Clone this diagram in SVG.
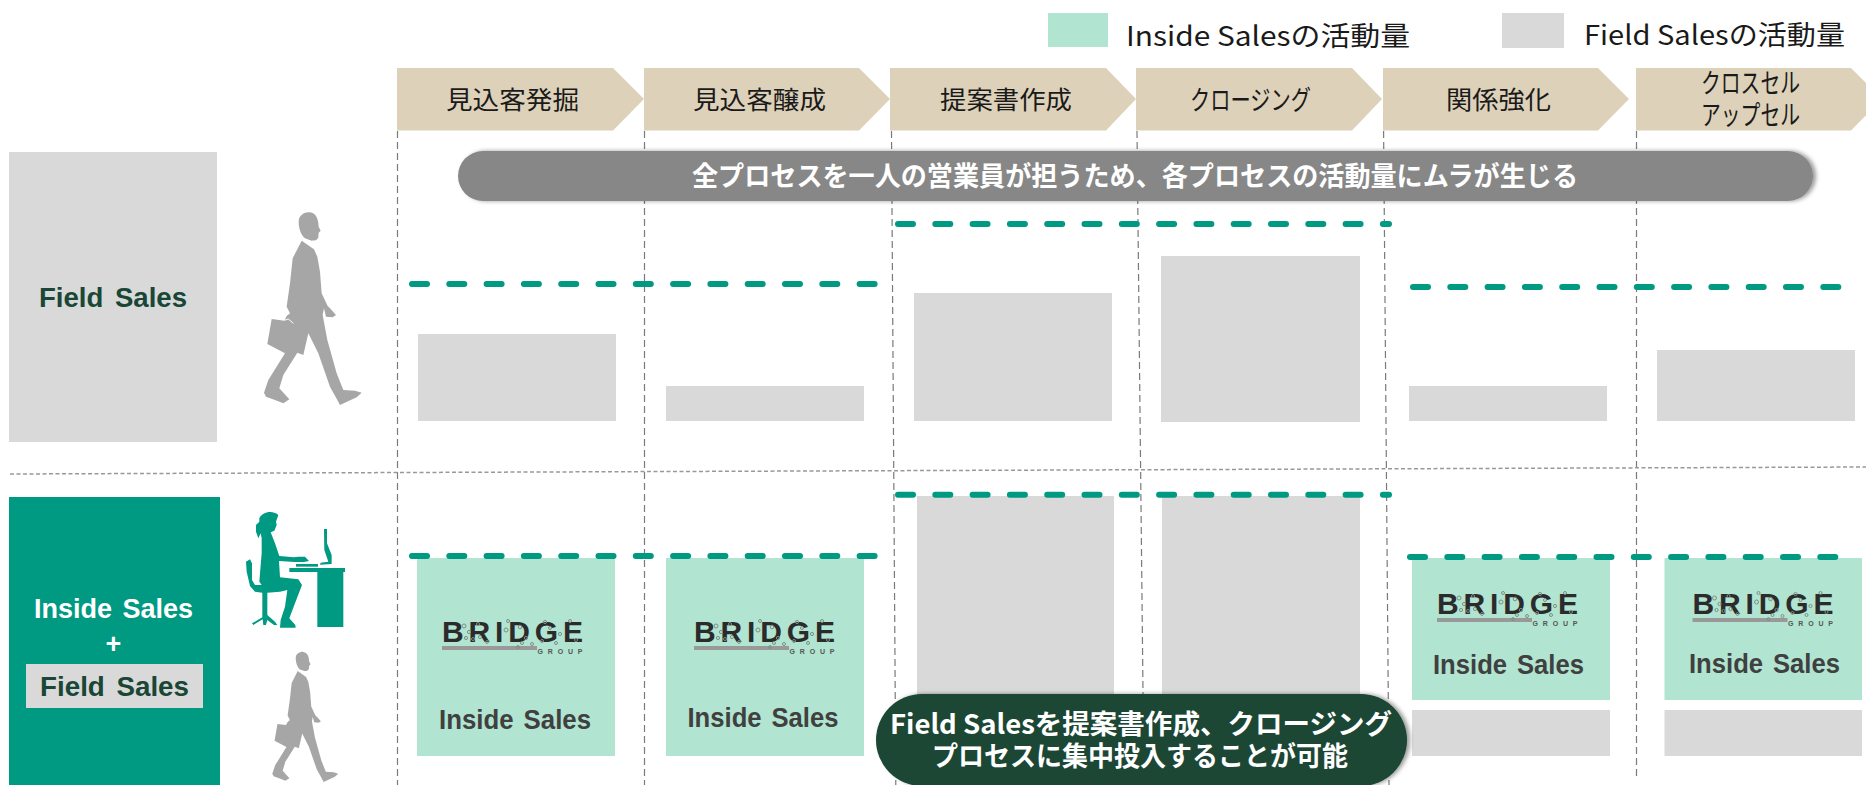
<svg xmlns="http://www.w3.org/2000/svg" width="1866" height="785" viewBox="0 0 1866 785">
<style>
text{font-family:"Noto Sans CJK JP","Liberation Sans",sans-serif;text-anchor:middle}
.lat{font-family:"Liberation Sans","Noto Sans CJK JP",sans-serif;font-weight:700}
.chev{fill:#ddd1b9}
.lab{font-size:25px;fill:#1a1a1a}
.kana{font-size:27px}
.gray{fill:#d9d9d9}
.green{fill:#b1e4d1}
.teal{fill:#009982}
.vd{stroke:#7a7a7a;stroke-width:1.2;stroke-dasharray:7 4;fill:none}
.hd{stroke:#999;stroke-width:1.5;stroke-dasharray:4 2.5;fill:none}
.gd{stroke:#009982;stroke-width:6;stroke-linecap:round;stroke-dasharray:15 22.3;fill:none}
.is{font-size:27px;fill:#404040;word-spacing:3px}
.pw{font-weight:700;fill:#fff}
.fs{font-size:28.500px;fill:#1a4636;word-spacing:4px}
.br{font-size:30px;fill:#2b2b2b}
.gr{font-size:7px;fill:#555}
.sp{fill:none;stroke:#7f8f87;stroke-width:1}
.man{fill:#a6a6a6}
</style>
<defs>
<filter id="sh" x="-5%" y="-30%" width="110%" height="160%"><feDropShadow dx="3" dy="0" stdDev="3" flood-color="#000" flood-opacity=".4"/></filter>
<g id="speck" class="sp">
<circle cx="22" cy="8" r="2"/><circle cx="27" cy="14" r="1.6"/><circle cx="24" cy="20" r="1.6"/><circle cx="31" cy="21" r="1.5"/><circle cx="36" cy="6" r="1.5"/><circle cx="38" cy="19" r="1.6"/><circle cx="45" cy="24" r="1.4"/><circle cx="66" cy="3" r="1.5"/><circle cx="64" cy="12" r="2"/><circle cx="78" cy="9" r="1.8"/><circle cx="84" cy="20" r="1.6"/><circle cx="80" cy="25" r="1.5"/><circle cx="76" cy="29" r="1.4"/><circle cx="90" cy="26" r="1.5"/><circle cx="103" cy="4" r="1.6"/><circle cx="100" cy="23" r="1.5"/><circle cx="108" cy="10" r="1.5"/><circle cx="118" cy="16" r="1.6"/><circle cx="114" cy="25" r="1.5"/><circle cx="128" cy="3" r="1.5"/><circle cx="134" cy="22" r="1.5"/>
</g>
<path id="man" d="M176,65C176,45 195,35 210,37C228,40 235,55 236,80L242,92L236,98L235,112C232,122 222,122 215,122L195,115C183,105 176,85 176,65ZM185,122L222,148L232,170L240,215L245,280L263,318L270,325L288,345L278,352L258,350L252,325L248,345L262,420L290,520L310,570L345,572L365,578L350,592L300,615L292,600L270,560L235,460L205,400L190,465L172,458L130,525L118,565L148,598L130,610L105,600L78,590L72,578L85,540L135,460L82,432L95,357L133,362L140,348L150,340L140,320L150,250L158,175Z"/>
</defs>

<g id="connectors">
<path class="vd" d="M397.5,131V785"/>
<path class="vd" d="M644.5,131V785"/>
<path class="vd" d="M891.5,131L895.8,785"/>
<path class="vd" d="M1137,131L1144,785"/>
<path class="vd" d="M1383.6,131L1389,785"/>
<path class="vd" d="M1636.5,131V778"/>
<path class="hd" d="M10,474L1866,467"/>
</g>

<g id="legend-inside"><rect class="green" x="1048" y="13" width="60" height="34"/><text x="1268" y="46" font-size="27" fill="#1a1a1a" textLength="284" lengthAdjust="spacingAndGlyphs">Inside Salesの活動量</text></g>
<g id="legend-field"><rect class="gray" x="1502" y="13" width="62" height="35"/><text x="1714.5" y="45" font-size="27" fill="#1a1a1a" textLength="261" lengthAdjust="spacingAndGlyphs">Field Salesの活動量</text></g>

<g id="step1"><path class="chev" d="M397,68H613L644,99L613,130.500H397Z"/><text class="lab" x="512.500" y="109" textLength="133" lengthAdjust="spacingAndGlyphs">見込客発掘</text></g>
<g id="step2"><path class="chev" d="M644,68H859L890,99L859,130.500H644Z"/><text class="lab" x="759.500" y="109" textLength="133" lengthAdjust="spacingAndGlyphs">見込客醸成</text></g>
<g id="step3"><path class="chev" d="M890,68H1106L1136,99L1106,130.500H890Z"/><text class="lab" x="1006" y="109" textLength="132" lengthAdjust="spacingAndGlyphs">提案書作成</text></g>
<g id="step4"><path class="chev" d="M1136,68H1352L1382,99L1352,130.500H1136Z"/><text class="lab kana" x="1250.500" y="110" textLength="121" lengthAdjust="spacingAndGlyphs">クロージング</text></g>
<g id="step5"><path class="chev" d="M1383,68H1598L1629,99L1598,130.500H1383Z"/><text class="lab" x="1498.500" y="109" textLength="105" lengthAdjust="spacingAndGlyphs">関係強化</text></g>
<g id="step6"><path class="chev" d="M1636,68H1851L1882,99L1851,130.500H1636Z"/><text class="lab kana"><tspan x="1750.500" y="93" textLength="99" lengthAdjust="spacingAndGlyphs">クロスセル</tspan><tspan x="1750.500" y="125" textLength="99" lengthAdjust="spacingAndGlyphs">アップセル</tspan></text></g>

<g id="field-sales"><rect class="gray" x="9" y="152" width="208" height="290"/><text class="lat fs" x="113" y="307" textLength="148" lengthAdjust="spacingAndGlyphs">Field Sales</text></g>
<g id="person-walking-1"><use href="#man" class="man" transform="translate(240,200) scale(.3333)"/><path d="M133,361L145,357L160,370" fill="none" stroke="#fff" stroke-width="3" transform="translate(240,200) scale(.3333)"/></g>

<g id="bars-field">
<rect class="gray" x="418" y="334" width="198" height="87"/>
<rect class="gray" x="666" y="386" width="198" height="35"/>
<rect class="gray" x="914" y="293" width="198" height="128"/>
<rect class="gray" x="1161" y="256" width="199" height="166"/>
<rect class="gray" x="1409" y="386" width="198" height="35"/>
<rect class="gray" x="1657" y="350" width="198" height="71"/>
</g>

<g id="message-top"><rect x="458" y="151" width="1355" height="50" rx="25" fill="#878787" filter="url(#sh)"/><text class="pw" x="1135" y="186" font-size="27" textLength="886" lengthAdjust="spacingAndGlyphs">全プロセスを一人の営業員が担うため、各プロセスの活動量にムラが生じる</text></g>

<g id="inside-field">
<rect class="teal" x="9" y="497" width="211" height="288"/>
<text class="lat pw" x="113.500" y="618" font-size="28" style="word-spacing:3px" textLength="159" lengthAdjust="spacingAndGlyphs">Inside Sales</text>
<text class="lat pw" x="113.500" y="653" font-size="27">+</text>
<rect class="gray" x="26" y="664" width="177" height="44"/>
<text class="lat fs" x="114.500" y="696" textLength="149" lengthAdjust="spacingAndGlyphs">Field Sales</text>
</g>

<g id="person-desk" class="teal" transform="translate(230,500) scale(.3333)">
<path d="M88,55C95,38 125,28 145,45L138,65L140,75L133,92L122,97L135,130L148,168L192,172L205,170L225,170L237,183L222,186L195,186L147,183L150,232L205,238L216,255L195,310L178,355L196,375L197,383L150,383L152,360L165,320L172,270L150,275L112,278L112,345L135,365L142,375L132,375L112,360L108,375L100,375L98,358L70,375L66,370L97,352L97,278L75,275L60,258L50,215L48,185L60,178L66,190L66,240L75,255L95,255L88,245L95,160L95,115L92,100L85,115L78,95L78,75L88,65Z"/>
<rect x="178" y="204" width="167" height="12"/><rect x="262" y="216" width="78" height="165"/><rect x="198" y="192" width="66" height="8"/>
<path d="M282,87H291V130L305,165V192L270,194L272,188L295,185L283,150Z"/>
</g>
<g id="person-walking-2"><use href="#man" class="man" transform="translate(256.100,643.600) scale(.225)"/></g>

<g id="bars-mixed">
<rect class="gray" x="917" y="496" width="197" height="210"/>
<rect class="gray" x="1162" y="496" width="198" height="210"/>
<rect class="gray" x="1412" y="710" width="198" height="46"/>
<rect class="gray" x="1664.500" y="710" width="197.500" height="46"/>
</g>

<g id="inside-1"><rect class="green" x="417" y="558" width="198" height="198"/>
<g transform="translate(442,618)"><text class="lat br" x="70.500" y="23.500" textLength="141" lengthAdjust="spacing">BRIDGE</text><rect y="28" width="95" height="4" fill="#999"/><text class="lat gr" x="118" y="36" textLength="45" lengthAdjust="spacing">GROUP</text><use href="#speck"/></g>
<text class="lat is" x="515" y="729" textLength="152" lengthAdjust="spacingAndGlyphs">Inside Sales</text></g>
<g id="inside-2"><rect class="green" x="666" y="558" width="198" height="198"/>
<g transform="translate(694,618)"><text class="lat br" x="70.500" y="23.500" textLength="141" lengthAdjust="spacing">BRIDGE</text><rect y="28" width="95" height="4" fill="#999"/><text class="lat gr" x="118" y="36" textLength="45" lengthAdjust="spacing">GROUP</text><use href="#speck"/></g>
<text class="lat is" x="763" y="727" textLength="151" lengthAdjust="spacingAndGlyphs">Inside Sales</text></g>
<g id="inside-3"><rect class="green" x="1412" y="558" width="198" height="142"/>
<g transform="translate(1437,590)"><text class="lat br" x="70.500" y="23.500" textLength="141" lengthAdjust="spacing">BRIDGE</text><rect y="28" width="95" height="4" fill="#999"/><text class="lat gr" x="118" y="36" textLength="45" lengthAdjust="spacing">GROUP</text><use href="#speck"/></g>
<text class="lat is" x="1508.500" y="674" textLength="151" lengthAdjust="spacingAndGlyphs">Inside Sales</text></g>
<g id="inside-4"><rect class="green" x="1664.500" y="558" width="197.500" height="142"/>
<g transform="translate(1692.500,590)"><text class="lat br" x="70.500" y="23.500" textLength="141" lengthAdjust="spacing">BRIDGE</text><rect y="28" width="95" height="4" fill="#999"/><text class="lat gr" x="118" y="36" textLength="45" lengthAdjust="spacing">GROUP</text><use href="#speck"/></g>
<text class="lat is" x="1764.500" y="673" textLength="151" lengthAdjust="spacingAndGlyphs">Inside Sales</text></g>

<g id="activity-lines">
<path class="gd" d="M412,284H875"/>
<path class="gd" d="M898,224H1389"/>
<path class="gd" d="M1413,287H1840"/>
<path class="gd" d="M412,556H875"/>
<path class="gd" d="M898,494.700H1389"/>
<path class="gd" d="M1410,557H1837"/>
</g>

<g id="message-bottom"><rect x="876" y="694" width="531" height="92" rx="46" fill="#1a4636" filter="url(#sh)"/><text class="pw" font-size="27"><tspan x="1141" y="734" textLength="502" lengthAdjust="spacingAndGlyphs">Field Salesを提案書作成、クロージング</tspan><tspan x="1140" y="766" textLength="416" lengthAdjust="spacingAndGlyphs">プロセスに集中投入することが可能</tspan></text></g>
</svg>
